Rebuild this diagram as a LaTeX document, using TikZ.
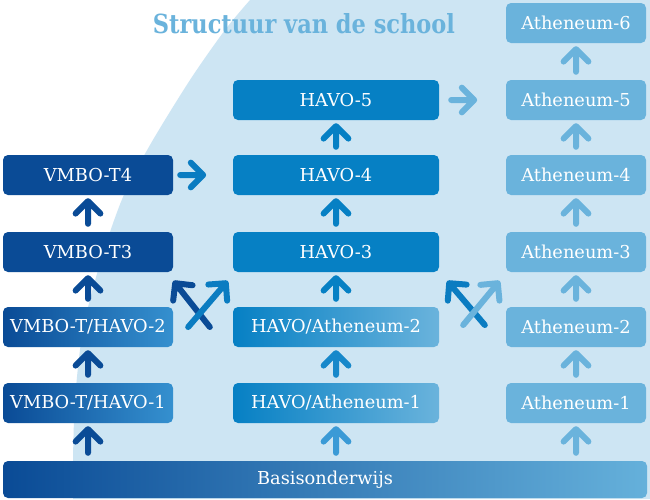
\documentclass[tikz,border=0pt]{standalone}
\usepackage{fontspec}
\usepackage{graphicx}
\setmainfont{DejaVu Serif}
\usetikzlibrary{calc}
\definecolor{navy}{RGB}{10,75,150}
\definecolor{midb}{RGB}{6,128,196}
\definecolor{lightb}{RGB}{106,179,220}
\definecolor{bgblue}{RGB}{205,229,243}
\definecolor{grad1}{RGB}{53,144,207}
\definecolor{mida}{RGB}{23,136,202}
\definecolor{midc}{RGB}{58,154,214}
\definecolor{crossb}{RGB}{10,124,193}
\newcommand\farrow[3]{%
  \path #2 coordinate (fa-s) #3 coordinate (fa-e);
  \draw[fat,#1] (fa-s) -- (fa-e) ($(fa-e)!17.5pt!45:(fa-s)$) -- (fa-e) -- ($(fa-e)!17.5pt!-45:(fa-s)$);}
\begin{document}
\begin{tikzpicture}[x=1pt,y=-1pt,
  box/.style={rounded corners=5pt, text=white, font=\fontsize{17.8}{19}\selectfont, inner sep=0pt, minimum height=40pt},
  lbox/.style={box, minimum width=170pt},
  mbox/.style={box, minimum width=206pt},
  rbox/.style={box, minimum width=140pt, fill=lightb},
  fat/.style={line width=6pt, line cap=round, line join=round},
]
\useasboundingbox (0,0) rectangle (650,499);
\fill[white] (0,0) rectangle (650,499);
\fill[bgblue] (650,0) -- (250,0) -- plot[smooth] coordinates {(250,0) (225,30) (190,80) (150,145) (123,197) (101,260) (83,330) (75,400) (73,461)} -- (73,499) -- (650,499) -- cycle;

\node[text=lightb, anchor=base] (title) at (304,33) {\resizebox{302pt}{20pt}{\bfseries Structuur van de school}};

% left column
\node[lbox, fill=navy] (l4) at (88,175) {VMBO-T4};
\node[lbox, fill=navy] (l3) at (88,252) {VMBO-T3};
\node[lbox, left color=navy, middle color=navy!60!midb, right color=grad1] (l2) at (88,327) {VMBO-T/HAVO-2};
\node[lbox, left color=navy, middle color=navy!60!midb, right color=grad1] (l1) at (88,403) {VMBO-T/HAVO-1};
% middle column
\node[mbox, fill=midb] (m5) at (336,100) {HAVO-5};
\node[mbox, fill=midb] (m4) at (336,175) {HAVO-4};
\node[mbox, fill=midb] (m3) at (336,252) {HAVO-3};
\node[mbox, left color=midb, right color=lightb] (m2) at (336,327) {HAVO/Atheneum-2};
\node[mbox, left color=midb, right color=lightb] (m1) at (336,403) {HAVO/Atheneum-1};
% right column
\node[rbox] (r6) at (576,23) {Atheneum-6};
\node[rbox] (r5) at (576,100) {Atheneum-5};
\node[rbox] (r4) at (576,175) {Atheneum-4};
\node[rbox] (r3) at (576,252) {Atheneum-3};
\node[rbox] (r2) at (576,327) {Atheneum-2};
\node[rbox] (r1) at (576,403) {Atheneum-1};
% base
\node[box, minimum width=644pt, minimum height=37pt, left color=navy, middle color=navy!55!midb, right color=lightb!95!midb] (basis) at (325,479.5) {Basisonderwijs};

\coordinate (bl) at (basis.north -| l1.south);
\coordinate (bm) at (basis.north -| m1.south);
\coordinate (br) at (basis.north -| r1.south);

% vertical arrows
\farrow{navy}{([yshift=8pt]bl)}{([yshift=-6pt]l1.south)}
\farrow{navy}{([yshift=8pt]l1.north)}{([yshift=-6pt]l2.south)}
\farrow{navy}{([yshift=8pt]l2.north)}{([yshift=-6pt]l3.south)}
\farrow{navy}{([yshift=8pt]l3.north)}{([yshift=-6pt]l4.south)}

\farrow{midc}{([yshift=8pt]bm)}{([yshift=-6pt]m1.south)}
\farrow{mida}{([yshift=8pt]m1.north)}{([yshift=-6pt]m2.south)}
\farrow{midb}{([yshift=8pt]m2.north)}{([yshift=-6pt]m3.south)}
\farrow{midb}{([yshift=8pt]m3.north)}{([yshift=-6pt]m4.south)}
\farrow{midb}{([yshift=8pt]m4.north)}{([yshift=-6pt]m5.south)}

\farrow{lightb}{([yshift=8pt]br)}{([yshift=-6pt]r1.south)}
\farrow{lightb}{([yshift=8pt]r1.north)}{([yshift=-6pt]r2.south)}
\farrow{lightb}{([yshift=8pt]r2.north)}{([yshift=-6pt]r3.south)}
\farrow{lightb}{([yshift=8pt]r3.north)}{([yshift=-6pt]r4.south)}
\farrow{lightb}{([yshift=8pt]r4.north)}{([yshift=-6pt]r5.south)}
\farrow{lightb}{([yshift=8pt]r5.north)}{([yshift=-6pt]r6.south)}

% horizontal arrows
\farrow{crossb}{([xshift=7pt]l4.east)}{([xshift=30pt]l4.east)}
\farrow{lightb}{([xshift=12pt]m5.east)}{([xshift=35pt]m5.east)}

% cross arrows left
\farrow{navy}{([xshift=-23pt]m2.west)}{([xshift=2pt,yshift=-11pt]l3.south east)}
\farrow{crossb}{([xshift=15pt]l2.east)}{([xshift=-7pt,yshift=-11pt]m3.south west)}
% cross arrows right
\farrow{crossb}{([xshift=-21pt,yshift=2pt]r2.west)}{([xshift=10pt,yshift=-11pt]m3.south east)}
\farrow{lightb}{([xshift=24pt,yshift=2pt]m2.east)}{([xshift=-8pt,yshift=-11pt]r3.south west)}
\end{tikzpicture}
\end{document}
